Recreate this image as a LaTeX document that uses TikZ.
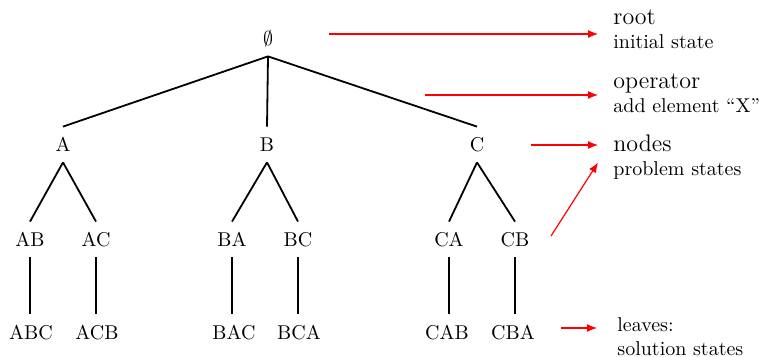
\documentclass[tikz,border=0pt]{standalone}
\usepackage{amsmath,amssymb}
\usepackage{tikz}
\usetikzlibrary{arrows.meta}
\definecolor{srchInk}{HTML}{000000}
\definecolor{srchRed}{HTML}{FF0000}
\tikzset{
  srchState/.style={text=srchInk,anchor=base,inner xsep=3pt,inner ysep=5pt,
                    text height=7.5pt,text depth=0pt},
  srchEdge/.style={draw=srchInk,line width=0.9pt},
  srchPointer/.style={draw=srchRed,line width=0.6pt,-{Latex[length=5pt,width=4pt]}},
  srchLabel/.style={align=left,anchor=base west,inner xsep=7.5pt,text=srchInk}
}

\begin{document}
\begin{tikzpicture}[x=0.5pt,y=-0.5pt]
\useasboundingbox (0,0) rectangle (759,357);
\node[srchState] (R) at (268,46) {$\emptyset$};
\node[srchState] (A) at (63,152) {A};
\node[srchState] (B) at (267,152) {B};
\node[srchState] (C) at (477,152) {C};
\node[srchState] (AB) at (30,247) {AB};
\node[srchState] (AC) at (96,247) {AC};
\node[srchState] (BA) at (232,247) {BA};
\node[srchState] (BC) at (298,247) {BC};
\node[srchState] (CA) at (449,247) {CA};
\node[srchState] (CB) at (515,247) {CB};
\node[srchState] (ABC) at (31,339) {ABC};
\node[srchState] (ACB) at (97,339) {ACB};
\node[srchState] (BAC) at (234,339) {BAC};
\node[srchState] (BCA) at (299,339) {BCA};
\node[srchState] (CAB) at (447,339) {CAB};
\node[srchState] (CBA) at (513,339) {CBA};
\foreach \p/\c in {R/A,R/B,R/C,A/AB,A/AC,B/BA,B/BC,C/CA,C/CB}
  \draw[srchEdge] (\p.south) -- (\c.north);
\foreach \p/\c in {AB/ABC,AC/ACB,BA/BAC,BC/BCA,CA/CAB,CB/CBA}
  \draw[srchEdge] (\p.south) -- (\p.south |- \c.north);
\node[srchLabel] (rootLbl) at (598,49) {{\large root}\\initial state};
\node[srchLabel] (opLbl) at (598,113) {{\large operator}\\add element ``X''};
\node[srchLabel] (nodesLbl) at (598,176) {{\large nodes}\\problem states};
\node[srchLabel,inner xsep=10pt] (leavesLbl) at (597,355) {leaves:\\solution states};
\coordinate (rootTail) at (329,34);
\coordinate (opTail) at (425,95);
\coordinate (nodesTail) at (531,145);
\coordinate (cbTail) at (551,236);
\coordinate (leavesTail) at (561,328);
\draw[srchPointer] (rootTail) -- (rootLbl.west |- rootTail);
\draw[srchPointer] (opTail) -- (opLbl.west |- opTail);
\draw[srchPointer] (nodesTail) -- (nodesLbl.west |- nodesTail);
\draw[srchPointer] (cbTail) -- ([yshift=-2.5pt]nodesLbl.west);
\draw[srchPointer] (leavesTail) -- (leavesLbl.west |- leavesTail);
\end{tikzpicture}
\end{document}
